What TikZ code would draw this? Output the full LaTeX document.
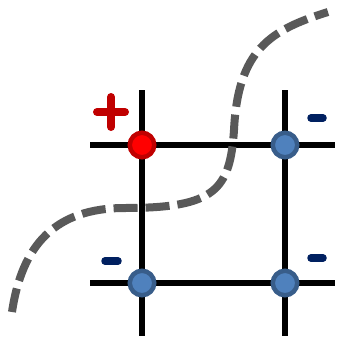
\documentclass[tikz,border=0pt]{standalone}
\definecolor{poscore}{HTML}{FF0000}
\definecolor{posring}{HTML}{C00000}
\definecolor{negcore}{HTML}{4F81BD}
\definecolor{negring}{HTML}{385D8A}
\definecolor{signnavy}{HTML}{002060}
\definecolor{curvegray}{HTML}{595959}
\begin{document}
\begin{tikzpicture}[x=1pt,y=-1pt,
  gridline/.style={line width=5.5pt,black},
  site/.style={circle,inner sep=0pt,minimum size=24.5pt,line width=4.5pt},
  possite/.style={site,fill=poscore,draw=posring},
  negsite/.style={site,fill=negcore,draw=negring},
  plusbar/.style={line width=8pt,posring,line cap=round},
  minusbar/.style={line width=7.5pt,signnavy,line cap=round},
  dashline/.style={line width=8pt,curvegray,dash pattern=on 24pt off 8pt}]
\useasboundingbox (0,0) rectangle (337,340);

% end points of the grid lines
\coordinate (h1w) at (90,145);  \coordinate (h1e) at (335,145);
\coordinate (h2w) at (90,283);  \coordinate (h2e) at (335,283);
\coordinate (v1n) at (142,90);  \coordinate (v1s) at (142,336);
\coordinate (v2n) at (285,90);  \coordinate (v2s) at (285,336);

\draw[gridline] (h1w) -- (h1e);
\draw[gridline] (h2w) -- (h2e);
\draw[gridline] (v1n) -- (v1s);
\draw[gridline] (v2n) -- (v2s);

% lattice sites
\node[possite] (tl) at (142,145) {};
\node[negsite] (tr) at (285,145) {};
\node[negsite] (bl) at (142,283) {};
\node[negsite] (br) at (285,283) {};

% charge signs
\coordinate (pw) at (97,112);  \coordinate (pe) at (125,112);
\coordinate (pn) at (111,97);  \coordinate (ps) at (111,127);
\draw[plusbar] (pw) -- (pe);
\draw[plusbar] (pn) -- (ps);

\coordinate (m1w) at (311,118); \coordinate (m1e) at (323,118);
\coordinate (m2w) at (311,258); \coordinate (m2e) at (323,258);
\coordinate (m3w) at (105,261); \coordinate (m3e) at (118,261);
\draw[minusbar] (m1w) -- (m1e);
\draw[minusbar] (m2w) -- (m2e);
\draw[minusbar] (m3w) -- (m3e);

% dashed boundary curve
\coordinate (c0) at (12,312);
\coordinate (c1) at (125,208);
\coordinate (c2) at (234,130);
\coordinate (c3) at (328,12);
\draw[dashline] (c0) .. controls (22,245) and (55,208) .. (c1)
  .. controls (215,208) and (230,190) .. (c2)
  .. controls (238,50) and (270,30) .. (c3);
\end{tikzpicture}
\end{document}
